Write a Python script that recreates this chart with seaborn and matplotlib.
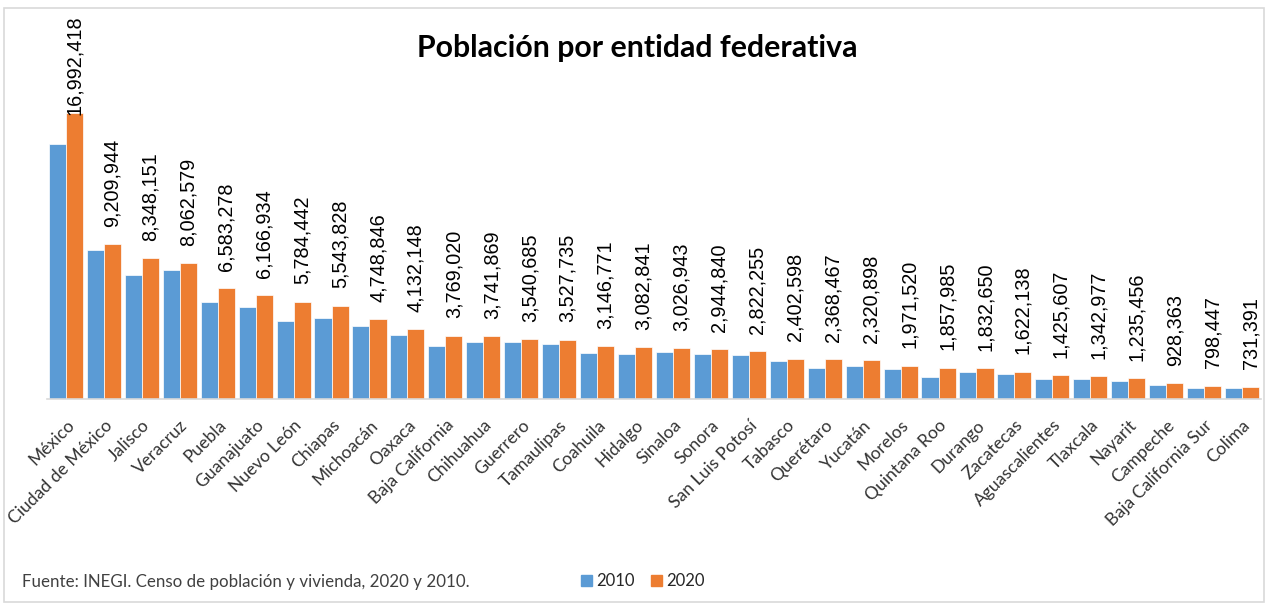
import pandas as pd
import seaborn as sns
import matplotlib.pyplot as plt
from matplotlib.patches import Rectangle

# --- data ---
estados = ['México', 'Ciudad de México', 'Jalisco', 'Veracruz', 'Puebla', 'Guanajuato',
           'Nuevo León', 'Chiapas', 'Michoacán', 'Oaxaca', 'Baja California', 'Chihuahua',
           'Guerrero', 'Tamaulipas', 'Coahuila', 'Hidalgo', 'Sinaloa', 'Sonora',
           'San Luis Potosí', 'Tabasco', 'Querétaro', 'Yucatán', 'Morelos', 'Quintana Roo',
           'Durango', 'Zacatecas', 'Aguascalientes', 'Tlaxcala', 'Nayarit', 'Campeche',
           'Baja California Sur', 'Colima']
pob_2010 = [15175862, 8851080, 7350682, 7643194, 5779829, 5486372, 4653458, 4796580,
            4351037, 3801962, 3155070, 3406465, 3388768, 3268554, 2748391, 2665018,
            2767761, 2662480, 2585518, 2238603, 1827937, 1955577, 1777227, 1325578,
            1632934, 1490668, 1184996, 1169936, 1084979, 822441, 637026, 650555]
pob_2020 = [16992418, 9209944, 8348151, 8062579, 6583278, 6166934, 5784442, 5543828,
            4748846, 4132148, 3769020, 3741869, 3540685, 3527735, 3146771, 3082841,
            3026943, 2944840, 2822255, 2402598, 2368467, 2320898, 1971520, 1857985,
            1832650, 1622138, 1425607, 1342977, 1235456, 928363, 798447, 731391]
anios = ['2010', '2020']
colores = ['#5B9BD5', '#ED7D31']

df = pd.DataFrame({'Entidad': estados * 2,
                   'Año': ['2010'] * len(estados) + ['2020'] * len(estados),
                   'Población': pob_2010 + pob_2020})

sns.set_style('white')
plt.rcParams['font.family'] = ['Liberation Sans', 'DejaVu Sans']

fig = plt.figure(figsize=(12.68, 6.06), dpi=100)
ax = fig.add_axes([47 / 1268, 1 - 399 / 606, (1261 - 47) / 1268, 339 / 606])

sns.barplot(data=df, x='Entidad', y='Población', hue='Año', hue_order=anios,
            palette=colores, width=0.9, saturation=1, edgecolor='white',
            linewidth=0.5, legend=False, ax=ax)

etiquetas = ax.bar_label(ax.containers[1], labels=[f'{v:,}' for v in pob_2020],
                         rotation=90, padding=12.5, fontsize=14.3, color='black')

ax.set_xlim(-0.5, len(estados) - 0.5)
ax.set_ylim(0, 20.14e6)
ax.set_xlabel('')
ax.set_ylabel('')
ax.set_yticks([])
for s in ['top', 'right', 'left']:
    ax.spines[s].set_visible(False)
ax.spines['bottom'].set_color('#D9D9D9')
ax.spines['bottom'].set_linewidth(1.2)
ax.tick_params(axis='x', length=0, pad=13)
ax.set_xticks(range(len(estados)))
ax.set_xticklabels(estados, rotation=45, ha='right', rotation_mode='anchor',
                   fontsize=12.6, family=['Lato', 'DejaVu Sans'], color='#333333')

# keep labels inside the chart area (like Excel does)
fig.canvas.draw()
renderer = fig.canvas.get_renderer()
limite = 606 - 15
for t in etiquetas:
    bb = t.get_window_extent(renderer)
    if bb.y1 > limite:
        dx, dy = t.xyann
        t.xyann = (dx, dy - (bb.y1 - limite) * 72 / fig.dpi)

fig.text(637 / 1268, 1 - 48 / 606, 'Población por entidad federativa',
         ha='center', va='center', fontsize=21.8, fontweight='bold',
         family=['Lato', 'DejaVu Sans'], color='black')

fig.text(22 / 1268, 1 - 582 / 606,
         'Fuente: INEGI. Censo de población y vivienda, 2020 y 2010.',
         ha='left', va='center', fontsize=12.2, color='#404040',
         family=['Lato', 'DejaVu Sans'])

# legend
handles = [Rectangle((0, 0), 1, 1, color=c) for c in colores]
fig.legend(handles, anios, loc='center', bbox_to_anchor=(643 / 1268, 1 - 581 / 606),
           ncol=2, frameon=False, handlelength=0.65, handleheight=0.65,
           handletextpad=0.25, columnspacing=1.0,
           prop={'family': ['Lato', 'DejaVu Sans'], 'size': 12})

# border
fig.patches.append(Rectangle((4 / 1268, 4 / 606), 1 - 8 / 1268, 1 - 12 / 606,
                             transform=fig.transFigure, fill=False,
                             edgecolor='#D9D9D9', linewidth=1.2))

plt.savefig('out.png', dpi=100)
plt.close()
